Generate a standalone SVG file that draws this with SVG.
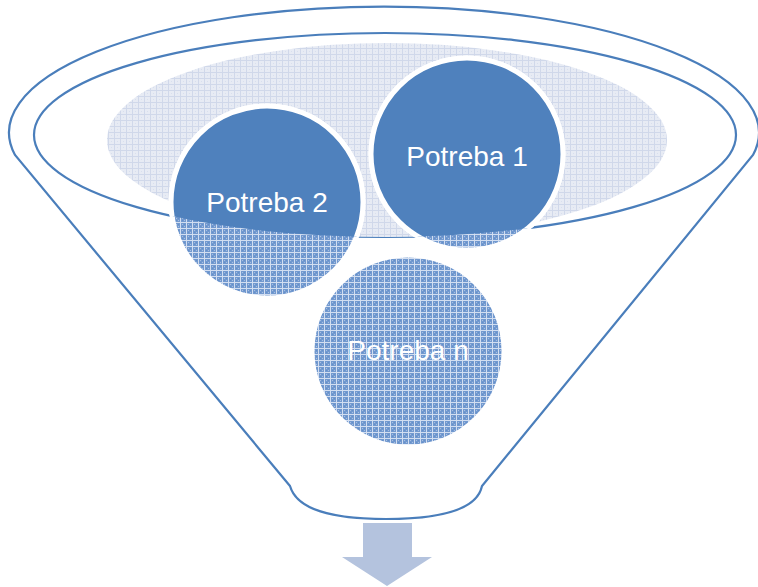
<svg xmlns="http://www.w3.org/2000/svg" width="758" height="587" viewBox="0 0 758 587">
  <style>
    .ln { fill: none; stroke: #4a7ebb; stroke-width: 2.2; }
    .lbl { font-family: "Liberation Sans", Arial, sans-serif; font-size: 28px; fill: #ffffff; text-anchor: middle; }
    .solid { fill: #4f81bd; stroke: #ffffff; stroke-width: 5; }
    .hatch { fill: url(#patDark); stroke: #ffffff; stroke-width: 5; }
  </style>
  <defs>
    <pattern id="patDark" width="6" height="6" patternUnits="userSpaceOnUse">
      <rect width="6" height="6" fill="#7299cf"/>
      <rect x="0" y="0" width="6" height="1" fill="#d2def1"/>
      <rect x="0" y="0" width="1" height="6" fill="#d2def1"/>
      <rect x="2" y="2" width="1" height="1" fill="#a9c0e2"/>
      <rect x="4" y="4" width="1" height="1" fill="#a9c0e2"/>
      <rect x="4" y="2" width="1" height="1" fill="#6590ca"/>
      <rect x="2" y="4" width="1" height="1" fill="#6590ca"/>
    </pattern>
    <pattern id="patLight" width="6" height="6" patternUnits="userSpaceOnUse">
      <rect width="6" height="6" fill="#e7ebf4"/>
      <rect x="0" y="0" width="6" height="1" fill="#d0d8ea"/>
      <rect x="0" y="0" width="1" height="6" fill="#d0d8ea"/>
      <rect x="3" y="3" width="1" height="1" fill="#d8dfee"/>
    </pattern>
    <clipPath id="topClip">
      <ellipse cx="385" cy="135" rx="351" ry="102"/>
    </clipPath>
  </defs>

  <g id="funnel">
    <path class="ln" d="M 290,486 L 15,155 A 375 126 0 1 1 753,155 L 482,486 C 477,510 440,519 386,519 C 332,519 297,510 290,486 Z"/>
    <ellipse class="ln" cx="385" cy="135" rx="351" ry="102"/>
    <ellipse cx="387" cy="140" rx="280" ry="97" fill="url(#patLight)"/>
  </g>

  <g id="potreba-n">
    <circle class="hatch" cx="408" cy="351" r="96"/>
    <text class="lbl" x="408" y="360">Potreba n</text>
  </g>

  <g id="potreba-2">
    <circle class="hatch" cx="267" cy="202" r="96"/>
    <circle class="solid" cx="267" cy="202" r="96" clip-path="url(#topClip)"/>
    <text class="lbl" x="267" y="212">Potreba 2</text>
  </g>

  <g id="potreba-1">
    <circle class="hatch" cx="467" cy="154" r="96"/>
    <circle class="solid" cx="467" cy="154" r="96" clip-path="url(#topClip)"/>
    <text class="lbl" x="467" y="166">Potreba 1</text>
  </g>

  <g id="connectors">
    <path d="M 363,523 L 412,523 L 412,557 L 432,557 L 387,586 L 342,557 L 363,557 Z" fill="#b4c3de"/>
  </g>
</svg>
